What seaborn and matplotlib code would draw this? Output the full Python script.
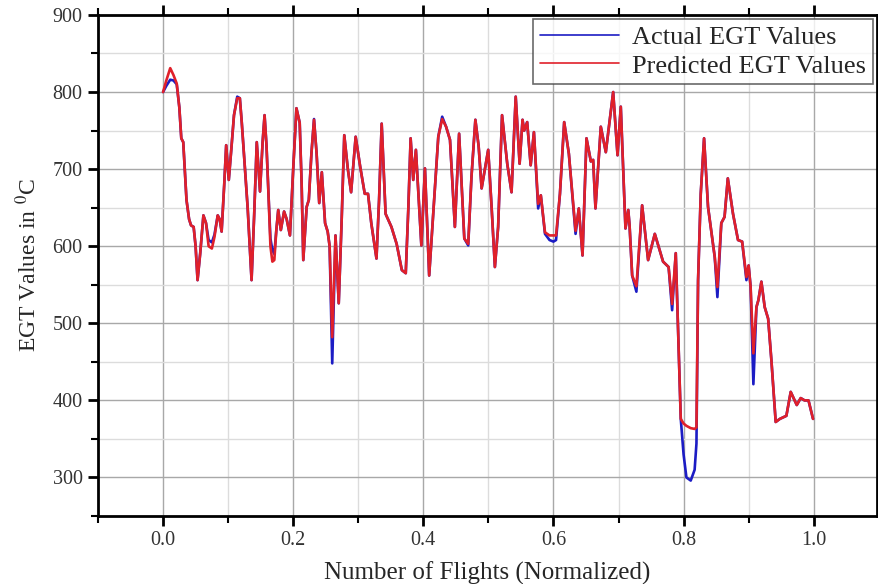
import pandas as pd
import matplotlib.pyplot as plt
import seaborn as sns
from matplotlib.ticker import MultipleLocator

# Normalized flight number
flights = [0.000, 0.005, 0.011, 0.016, 0.021, 0.025, 0.028, 0.031, 0.036, 0.040,
           0.043, 0.047, 0.050, 0.053, 0.057, 0.062, 0.066, 0.070, 0.075, 0.079,
           0.084, 0.087, 0.090, 0.094, 0.097, 0.101, 0.105, 0.109, 0.114, 0.118,
           0.121, 0.125, 0.130, 0.136, 0.140, 0.144, 0.149, 0.153, 0.156, 0.159,
           0.162, 0.165, 0.168, 0.171, 0.174, 0.177, 0.181, 0.186, 0.190, 0.195,
           0.200, 0.205, 0.210, 0.213, 0.2155, 0.2207, 0.224, 0.228, 0.232, 0.236,
           0.240, 0.244, 0.249, 0.253, 0.256, 0.260, 0.265, 0.270, 0.2745, 0.2785,
           0.284, 0.289, 0.296, 0.303, 0.310, 0.315, 0.320, 0.328, 0.332, 0.336,
           0.342, 0.351, 0.359, 0.367, 0.373, 0.377, 0.3805, 0.3845, 0.3886, 0.393,
           0.397, 0.4025, 0.409, 0.415, 0.423, 0.429, 0.435, 0.441, 0.4485, 0.455,
           0.463, 0.469, 0.474, 0.480, 0.485, 0.4896, 0.4997, 0.505, 0.510, 0.515,
           0.521, 0.529, 0.5356, 0.542, 0.548, 0.5525, 0.555, 0.5596, 0.565, 0.570,
           0.5765, 0.5806, 0.587, 0.594, 0.600, 0.604, 0.610, 0.6165, 0.6237, 0.634,
           0.639, 0.6447, 0.6508, 0.6575, 0.661, 0.6646, 0.6728, 0.6805, 0.6918, 0.6985,
           0.7035, 0.7107, 0.715, 0.717, 0.721, 0.7275, 0.7363, 0.7455, 0.7558, 0.7685,
           0.777, 0.7824, 0.788, 0.7915, 0.7957, 0.800, 0.8044, 0.811, 0.817, 0.8198,
           0.8223, 0.8264, 0.8315, 0.8376, 0.8479, 0.852, 0.858, 0.863, 0.868, 0.876,
           0.8837, 0.890, 0.8966, 0.900, 0.903, 0.9073, 0.912, 0.915, 0.9196, 0.9247,
           0.930, 0.935, 0.9416, 0.948, 0.958, 0.9647, 0.9708, 0.974, 0.980, 0.986,
           0.992, 0.999]

# Actual EGT values
actual = [800, 808, 816, 815, 810, 780, 740, 735, 660, 635,
          627, 625, 600, 556, 590, 640, 630, 608, 605, 615,
          640, 635, 619, 680, 731, 686, 727, 770, 794, 792,
          760, 712, 650, 556, 640, 735, 671, 735, 770, 730,
          668, 610, 595, 590, 620, 647, 621, 645, 635, 614,
          700, 779, 760, 680, 582, 651, 660, 720, 765, 720,
          656, 696, 630, 619, 600, 448, 614, 526, 634, 744,
          700, 670, 742, 703, 668, 668, 630, 584, 660, 759,
          642, 625, 603, 569, 565, 650, 740, 686, 725, 660,
          601, 701, 562, 640, 742, 768, 755, 738, 625, 746,
          610, 601, 690, 764, 730, 675, 725, 650, 573, 625,
          770, 707, 670, 794, 707, 764, 750, 761, 705, 748,
          649, 666, 616, 608, 606, 608, 668, 761, 720, 616,
          649, 588, 740, 710, 712, 649, 755, 722, 800, 718,
          781, 623, 647, 627, 562, 541, 653, 582, 616, 580,
          573, 517, 591, 495, 376, 330, 300, 296, 310, 344,
          556, 668, 740, 651, 586, 534, 630, 638, 688, 642,
          608, 606, 556, 575, 548, 421, 521, 530, 554, 521,
          506, 452, 372, 376, 380, 411, 400, 394, 403, 400,
          400, 376]

# Predicted EGT values
predicted = [800, 815, 831, 822, 811, 780, 740, 735, 660, 635,
             627, 625, 600, 556, 590, 640, 630, 600, 597, 612,
             640, 635, 619, 680, 731, 686, 727, 770, 792, 792,
             760, 712, 650, 556, 640, 735, 671, 735, 770, 730,
             668, 600, 580, 582, 620, 647, 621, 645, 635, 614,
             700, 779, 760, 680, 582, 651, 660, 720, 764, 720,
             656, 696, 630, 619, 600, 482, 614, 526, 634, 744,
             700, 670, 742, 703, 668, 668, 630, 584, 660, 759,
             642, 625, 603, 569, 565, 650, 740, 686, 725, 660,
             601, 701, 562, 640, 742, 765, 755, 738, 625, 746,
             610, 603, 690, 764, 730, 675, 725, 650, 573, 625,
             770, 707, 670, 794, 707, 764, 750, 761, 705, 748,
             655, 666, 618, 614, 614, 614, 668, 761, 720, 620,
             649, 588, 740, 710, 712, 649, 755, 722, 800, 718,
             781, 623, 647, 627, 562, 548, 653, 582, 616, 580,
             573, 525, 591, 495, 376, 370, 367, 364, 363, 365,
             556, 668, 740, 651, 586, 547, 630, 638, 688, 642,
             608, 606, 560, 575, 548, 461, 521, 530, 554, 521,
             506, 452, 372, 376, 380, 411, 400, 394, 403, 400,
             400, 376]

df = pd.DataFrame({'Flights': flights, 'Actual': actual, 'Predicted': predicted})

sns.set_style('white')
plt.rcParams['font.family'] = ['Liberation Serif', 'DejaVu Serif']
plt.rcParams['mathtext.fontset'] = 'stix'

fig = plt.figure(figsize=(8.79, 5.84), dpi=100)
ax = fig.add_axes([0.1115, 0.1164, 0.886, 0.858])

sns.lineplot(data=df, x='Flights', y='Actual', color='#1c1cc4', linewidth=1.9,
             label='Actual EGT Values', ax=ax, estimator=None, sort=False)
sns.lineplot(data=df, x='Flights', y='Predicted', color='#e0202a', linewidth=1.9,
             label='Predicted EGT Values', ax=ax, estimator=None, sort=False)

ax.set_xlim(-0.1, 1.097)
ax.set_ylim(250, 900)
ax.xaxis.set_major_locator(MultipleLocator(0.2))
ax.xaxis.set_minor_locator(MultipleLocator(0.1))
ax.yaxis.set_major_locator(MultipleLocator(100))
ax.yaxis.set_minor_locator(MultipleLocator(50))

# Grid: darker major, lighter minor
ax.grid(which='major', color='#a8a8a8', linewidth=1.0)
ax.grid(which='minor', color='#dcdcdc', linewidth=1.0)
ax.set_axisbelow(True)

for side in ['left', 'bottom', 'top', 'right']:
    ax.spines[side].set_color('black')
    ax.spines[side].set_linewidth(2)

ax.tick_params(which='major', direction='out', length=7, width=2, color='black',
               labelsize=14.5, top=True, left=True, bottom=True, pad=4)
ax.tick_params(which='minor', direction='out', length=5, width=1.5, color='black',
               top=True, left=True, bottom=True)
ax.tick_params(axis='both', labelcolor='#333333')

ax.set_xlabel('Number of Flights (Normalized)', fontsize=18, labelpad=8)
ax.set_ylabel(r'EGT Values in $^{0}$C', fontsize=17, labelpad=8)

leg = ax.legend(loc='upper right', fontsize=19, frameon=True, fancybox=False,
                edgecolor='#444444', borderaxespad=0.15, handlelength=3.0,
                labelspacing=0.2, borderpad=0.25, handletextpad=0.5)
leg.get_frame().set_linewidth(1.2)
for line in leg.get_lines():
    line.set_linewidth(1.2)

plt.savefig('out.png', dpi=100)
